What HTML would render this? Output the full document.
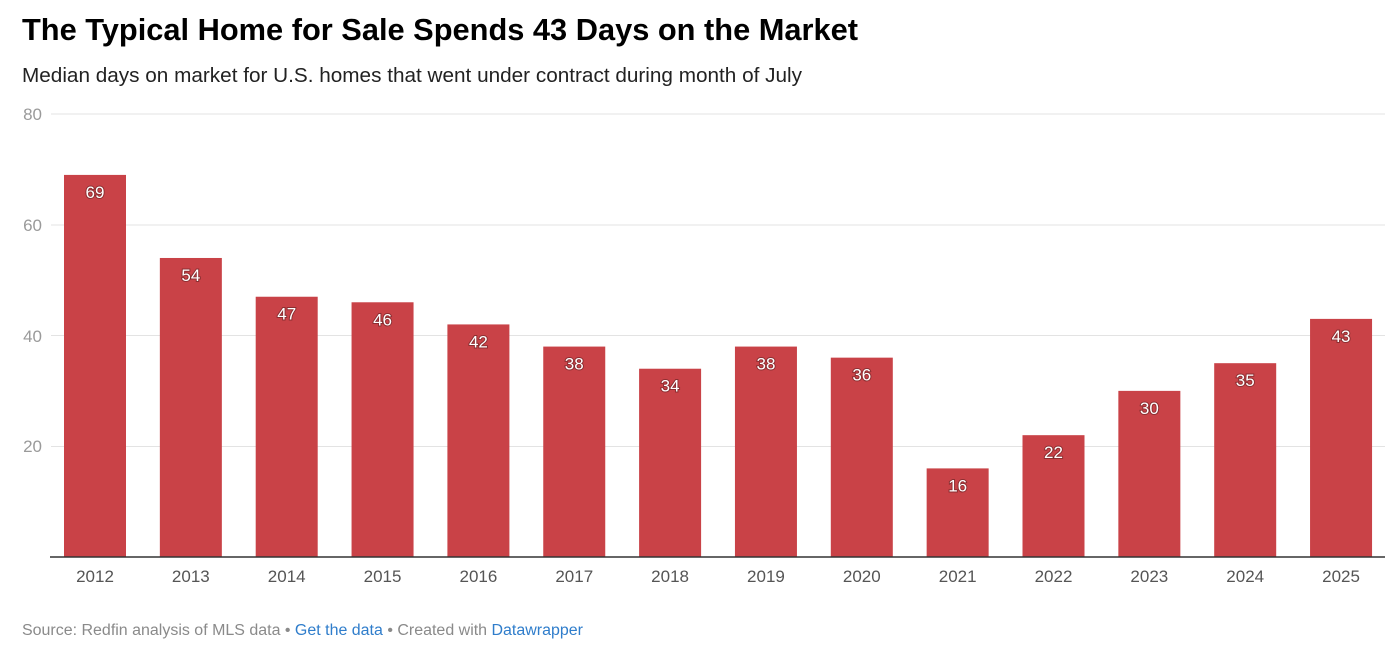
<!DOCTYPE html>
<html><head><meta charset="utf-8"><style>
html,body{margin:0;padding:0;background:#fff;width:1400px;height:650px;overflow:hidden}
svg text{font-family:"Liberation Sans",sans-serif}
</style></head><body>
<svg width="1400" height="650" viewBox="0 0 1400 650" xmlns="http://www.w3.org/2000/svg">
<text x="22" y="40" font-size="31" font-weight="bold" fill="#000" textLength="836" lengthAdjust="spacingAndGlyphs">The Typical Home for Sale Spends 43 Days on the Market</text>
<text x="22" y="82" font-size="20" fill="#222" textLength="780" lengthAdjust="spacingAndGlyphs">Median days on market for U.S. homes that went under contract during month of July</text>
<g stroke="#e3e3e3" stroke-width="1">
<line x1="51" x2="1385" y1="114" y2="114"/>
<line x1="51" x2="1385" y1="225" y2="225"/>
<line x1="51" x2="1385" y1="335.5" y2="335.5"/>
<line x1="51" x2="1385" y1="446.5" y2="446.5"/>
</g>
<g font-size="17" fill="#9a9a9a" text-anchor="end">
<text x="42" y="120">80</text><text x="42" y="231">60</text><text x="42" y="342">40</text><text x="42" y="452">20</text>
</g>
<g id="bars" fill="#c94247"></g>
<g id="lbl" font-size="17" fill="#fff" text-anchor="middle" style="paint-order:stroke" stroke="rgba(0,0,0,0.3)" stroke-width="2"></g>
<g id="yr" font-size="17" fill="#555" text-anchor="middle"></g>
<line x1="50" x2="1385" y1="557" y2="557" stroke="#333" stroke-width="1.5"/>
<text x="22" y="635" font-size="15.5" fill="#8a8a8a" textLength="561" lengthAdjust="spacingAndGlyphs">Source: Redfin analysis of MLS data • <tspan fill="#2f7dcb">Get the data</tspan> • Created with <tspan fill="#2f7dcb">Datawrapper</tspan></text>
</svg>
<script>
var v=[69,54,47,46,42,38,34,38,36,16,22,30,35,43],ns="http://www.w3.org/2000/svg";
var b=document.getElementById('bars'),l=document.getElementById('lbl'),y=document.getElementById('yr');
v.forEach(function(d,i){var x=64+i*95.85,t=557-d*5.5375;
var r=document.createElementNS(ns,'rect');r.setAttribute('x',x);r.setAttribute('y',t);r.setAttribute('width',62);r.setAttribute('height',557-t);b.appendChild(r);
var a=document.createElementNS(ns,'text');a.setAttribute('x',x+31);a.setAttribute('y',t+23);a.textContent=d;l.appendChild(a);
var c=document.createElementNS(ns,'text');c.setAttribute('x',x+31);c.setAttribute('y',582);c.textContent=2012+i;y.appendChild(c);});
</script>
</body></html>
